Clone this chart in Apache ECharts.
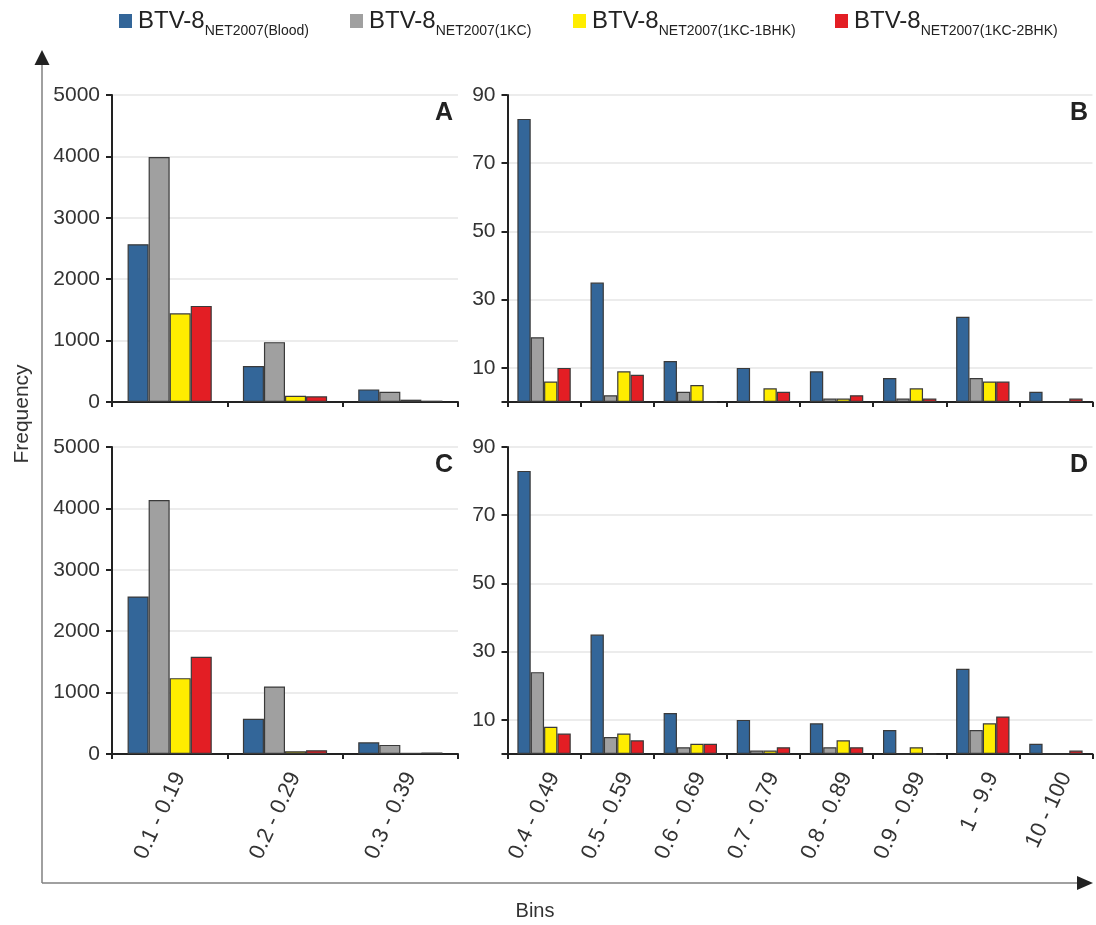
<!DOCTYPE html>
<html>
<head>
<meta charset="utf-8">
<script src="https://cdn.jsdelivr.net/npm/echarts@6/dist/echarts.min.js"></script>
<style>
  html, body { margin: 0; padding: 0; background: #ffffff; }
  #chart { width: 1096px; height: 925px; }
</style>
</head>
<body>
<div id="chart"></div>
<script>
// Bin categories
const lowBins = ['0.1 - 0.19', '0.2 - 0.29', '0.3 - 0.39'];
const highBins = ['0.4 - 0.49', '0.5 - 0.59', '0.6 - 0.69', '0.7 - 0.79', '0.8 - 0.89', '0.9 - 0.99', '1 - 9.9', '10 - 100'];

// Sample names (prefix + subscript)
const samplePrefix = 'BTV-8';
const sampleSubs = ['NET2007(Blood)', 'NET2007(1KC)', 'NET2007(1KC-1BHK)', 'NET2007(1KC-2BHK)'];
const sampleColors = ['#336699', '#a0a0a0', '#ffed00', '#e31e24'];

// Panel A: low bins
const aBlood = [2570, 585, 205];
const a1KC   = [3990, 975, 165];
const a1BHK  = [1445, 100, 38];
const a2BHK  = [1565, 92, 22];

// Panel B: high bins
const bBlood = [83, 35, 12, 10, 9, 7, 25, 3];
const b1KC   = [19, 2, 3, 0, 1, 1, 7, 0];
const b1BHK  = [6, 9, 5, 4, 1, 4, 6, 0];
const b2BHK  = [10, 8, 0, 3, 2, 1, 6, 1];

// Panel C: low bins
const cBlood = [2565, 575, 190];
const c1KC   = [4135, 1100, 148];
const c1BHK  = [1235, 45, 20];
const c2BHK  = [1585, 62, 25];

// Panel D: high bins
const dBlood = [83, 35, 12, 10, 9, 7, 25, 3];
const d1KC   = [24, 5, 2, 1, 2, 0, 7, 0];
const d1BHK  = [8, 6, 3, 1, 4, 2, 9, 0];
const d2BHK  = [6, 4, 3, 2, 2, 0, 11, 1];

// Axis tick labels
const lowTicks = [0, 1000, 2000, 3000, 4000, 5000];
const highTicks = [10, 30, 50, 70, 90];

const panelLetters = ['A', 'B', 'C', 'D'];

const seriesNames = sampleSubs.map(s => samplePrefix + ' ' + s);
const panelData = [
  [aBlood, a1KC, a1BHK, a2BHK],
  [bBlood, b1KC, b1BHK, b2BHK],
  [cBlood, c1KC, c1BHK, c2BHK],
  [dBlood, d1KC, d1BHK, d2BHK]
];

const FONT = '"Liberation Sans", Arial, sans-serif';
const INK = '#222222';

const grids = [
  { left: 112, top: 95, width: 346, height: 307 },
  { left: 507.5, top: 95, width: 585, height: 307 },
  { left: 112, top: 447, width: 346, height: 307 },
  { left: 507.5, top: 447, width: 585, height: 307 }
].map(g => Object.assign({ containLabel: false, outerBoundsMode: 'none' }, g));

const xAxes = grids.map((g, i) => ({
  type: 'category',
  gridIndex: i,
  data: (i % 2 === 0) ? lowBins : highBins,
  axisLine: { show: true, lineStyle: { color: INK, width: 2 } },
  axisTick: { show: true, length: 5, lineStyle: { color: INK, width: 2 } },
  axisLabel: {
    show: i >= 2,
    rotate: 65,
    margin: 15,
    verticalAlign: 'top',
    fontFamily: FONT,
    fontSize: 22,
    color: '#333333'
  },
  splitLine: { show: false }
}));

const yAxes = grids.map((g, i) => {
  const low = (i % 2 === 0);
  return {
    type: 'value',
    gridIndex: i,
    min: 0,
    max: low ? 5000 : 90,
    interval: low ? 1000 : 10,
    axisLine: { show: true, lineStyle: { color: INK, width: 2 } },
    axisTick: {
      show: true, length: 6,
      lineStyle: { color: INK, width: 2 },
      customValues: low ? lowTicks : [0].concat(highTicks)
    },
    axisLabel: {
      fontFamily: FONT, fontSize: 21, color: '#333333', margin: 12,
      customValues: low ? lowTicks : highTicks,
      formatter: v => String(v)
    },
    splitLine: { show: true, lineStyle: { color: '#e6e6e6', width: 1.5 } }
  };
});

const series = [];
panelData.forEach((sets, p) => {
  sets.forEach((values, k) => {
    series.push({
      type: 'bar',
      name: seriesNames[k],
      xAxisIndex: p,
      yAxisIndex: p,
      data: values,
      barGap: '0%',
      barCategoryGap: '27%',
      itemStyle: { color: sampleColors[k], borderColor: '#3a3a3a', borderWidth: 1.2 },
      emphasis: { disabled: true },
      animation: false
    });
  });
});

// One legend per sample so each entry sits at its own place in the header row
const legendLefts = [119, 350, 573, 835];
const legends = seriesNames.map((name, k) => ({
  data: [name],
  left: legendLefts[k],
  top: 4,
  padding: 0,
  itemWidth: 13,
  itemHeight: 14,
  itemGap: 0,
  icon: 'rect',
  selectedMode: false,
  itemStyle: { borderWidth: 0 },
  formatter: n => '{a|' + samplePrefix + '}{b|' + sampleSubs[seriesNames.indexOf(n)] + '}',
  textStyle: {
    fontFamily: FONT,
    color: INK,
    padding: [0, 0, 0, 1],
    rich: {
      a: { fontFamily: FONT, fontSize: 24, color: INK, lineHeight: 32 },
      b: { fontFamily: FONT, fontSize: 14, color: INK, lineHeight: 12, padding: [20, 0, 0, 0] }
    }
  }
}));

// Panel letters, outer axis arrows and axis titles
const graphics = [];
const letterPos = [
  { right: 643, top: 101 }, { right: 8, top: 101 },
  { right: 643, top: 453 }, { right: 8, top: 453 }
];
panelLetters.forEach((t, i) => {
  graphics.push({
    type: 'text', right: letterPos[i].right, top: letterPos[i].top,
    style: { text: t, font: 'bold 25px ' + FONT, fill: INK }
  });
});
graphics.push(
  { type: 'line', shape: { x1: 42, y1: 62, x2: 42, y2: 883 }, style: { stroke: '#808080', lineWidth: 1.5 } },
  { type: 'polygon', shape: { points: [[42, 50], [34.5, 65], [49.5, 65]] }, style: { fill: INK } },
  { type: 'line', shape: { x1: 42, y1: 883, x2: 1080, y2: 883 }, style: { stroke: '#808080', lineWidth: 1.5 } },
  { type: 'polygon', shape: { points: [[1093, 883], [1077, 876], [1077, 890]] }, style: { fill: INK } },
  {
    type: 'text', x: 22, y: 414, rotation: Math.PI / 2,
    style: { text: 'Frequency', font: '21px ' + FONT, fill: '#333333', align: 'center', verticalAlign: 'middle' }
  },
  {
    type: 'text', x: 535, y: 911,
    style: { text: 'Bins', font: '20px ' + FONT, fill: '#333333', align: 'center', verticalAlign: 'middle' }
  }
);

const chart = echarts.init(document.getElementById('chart'), null, { renderer: 'canvas' });
chart.setOption({
  backgroundColor: '#ffffff',
  animation: false,
  legend: legends,
  grid: grids,
  xAxis: xAxes,
  yAxis: yAxes,
  series: series,
  graphic: graphics
});
</script>
</body>
</html>
